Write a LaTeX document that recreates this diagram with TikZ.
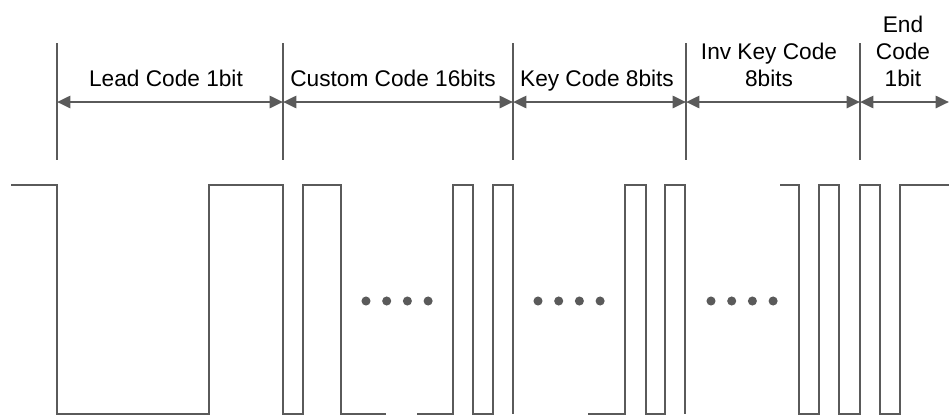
\documentclass[tikz,border=0pt]{standalone}
\usepackage{fontspec}
\setmainfont{Liberation Sans}
\usetikzlibrary{arrows.meta}
\definecolor{wavegray}{HTML}{5A5A5A}
\tikzset{
  wave/.style={line width=2pt, wavegray},
  bound/.style={line width=2pt, wavegray},
  dim/.style={line width=2pt, wavegray,
    {Triangle[length=10pt,width=9pt]}-{Triangle[length=10pt,width=9pt]}},
  lbl/.style={font=\fontsize{17}{20}\selectfont, align=center, anchor=base, inner sep=0pt}
}

\begin{document}
\begin{tikzpicture}[x=0.75pt,y=-0.75pt]
\useasboundingbox (0,0) rectangle (949,415);
\foreach \n/\x in {1/57,2/283,3/513,4/686,5/860} {
  \coordinate (t\n) at (\x,43);
  \coordinate (u\n) at (\x,160);
  \coordinate (m\n) at (\x,102);
  \draw[bound] (t\n) -- (u\n);
}
\coordinate (m6) at (949,102);
\foreach \a/\b in {1/2,2/3,3/4,4/5,5/6}
  \draw[dim] (m\a) -- (m\b);
\node[lbl] (lead) at (166,86) {Lead Code 1bit};
\node[lbl] (custom) at (393,86) {Custom Code 16bits};
\node[lbl] (key) at (597,86) {Key Code 8bits};
\node[lbl] (invkey) at (769,86) {Inv Key Code\\8bits};
\node[lbl] (endc) at (903,86) {End\\Code\\1bit};
\draw[wave] (11,185) -- (57,185) -- (57,414) -- (209,414) -- (209,185) -- (283,185)
  -- (283,414) -- (303,414) -- (303,185) -- (341,185) -- (341,414) -- (386,414);
\draw[wave] (417,414) -- (453,414) -- (453,185) -- (473,185) -- (473,414)
  -- (493,414) -- (493,185) -- (513,185) -- (513,414);
\draw[wave] (588,414) -- (625,414) -- (625,185) -- (646,185) -- (646,414)
  -- (665,414) -- (665,185) -- (685,185) -- (685,414);
\draw[wave] (780,185) -- (799,185) -- (799,414) -- (819,414) -- (819,185)
  -- (839,185) -- (839,414) -- (860,414) -- (860,185) -- (880,185)
  -- (880,414) -- (900,414) -- (900,185) -- (949,185);
\foreach \s in {366,538,711} {
  \foreach \k in {0,...,3} {
    \fill[wavegray] (\s+\k*20.7,301) circle (3.4pt);
  }
}
\end{tikzpicture}
\end{document}
